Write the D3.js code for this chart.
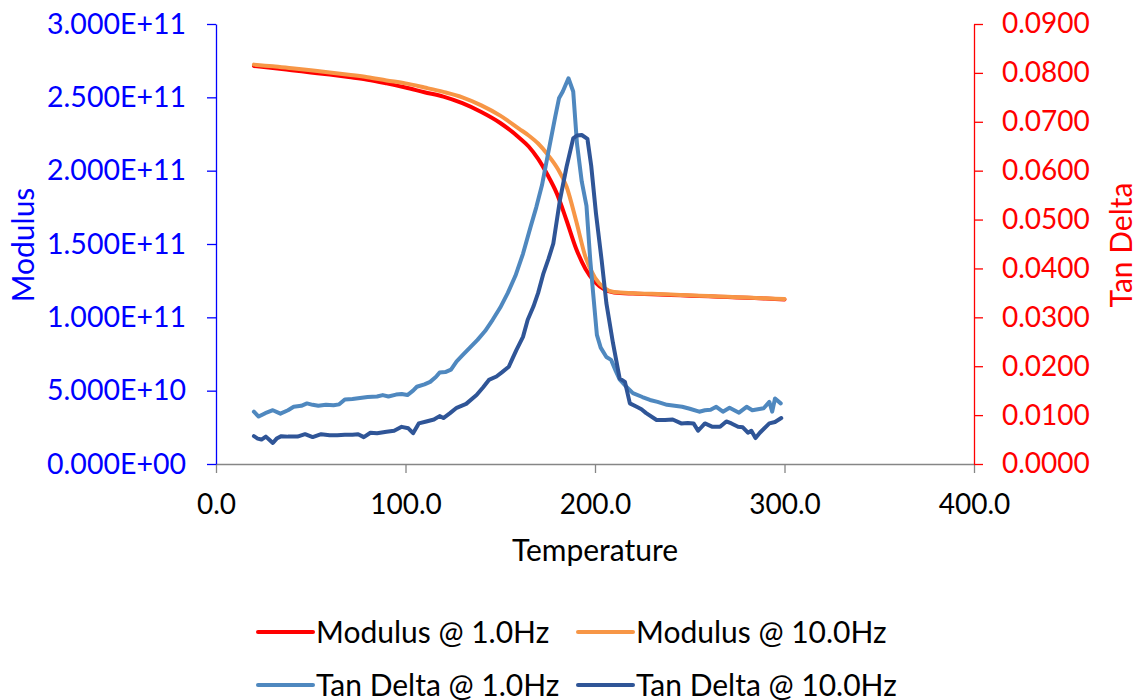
<!DOCTYPE html>
<html>
<head>
<meta charset="utf-8">
<script src="https://cdn.jsdelivr.net/npm/d3@7"></script>
<style>
  body { margin: 0; background: #fff; }
  svg text { font-family: Lato, "Open Sans", sans-serif; }
</style>
</head>
<body>
<div id="chart"></div>
<script>
// Modulus series
var modTemps = [20, 30, 40, 50, 60, 70, 80, 90, 100, 110, 120, 130, 140, 150, 160, 165, 170, 175, 180, 185, 190, 195, 200, 205, 210, 220, 230, 240, 250, 260, 270, 280, 290, 300];
var modulus1Hz = [2.714e11, 2.700e11, 2.685e11, 2.670e11, 2.655e11, 2.638e11, 2.620e11, 2.595e11, 2.567e11, 2.535e11, 2.505e11, 2.460e11, 2.400e11, 2.325e11, 2.225e11, 2.165e11, 2.080e11, 1.970e11, 1.840e11, 1.660e11, 1.470e11, 1.330e11, 1.240e11, 1.190e11, 1.170e11, 1.162e11, 1.158e11, 1.153e11, 1.148e11, 1.143e11, 1.138e11, 1.133e11, 1.128e11, 1.122e11];
var modulus10Hz = [2.723e11, 2.712e11, 2.698e11, 2.684e11, 2.670e11, 2.654e11, 2.637e11, 2.615e11, 2.595e11, 2.567e11, 2.537e11, 2.500e11, 2.445e11, 2.375e11, 2.285e11, 2.240e11, 2.185e11, 2.110e11, 2.020e11, 1.890e11, 1.660e11, 1.410e11, 1.270e11, 1.200e11, 1.172e11, 1.164e11, 1.160e11, 1.155e11, 1.150e11, 1.145e11, 1.140e11, 1.135e11, 1.130e11, 1.125e11];

// Tan Delta series
var tan1Temps = [20, 22.5, 26, 30, 34, 38, 41, 45, 48, 51, 54, 58, 62, 65, 68, 72, 76, 80, 85, 88, 91, 95, 98, 101, 104, 106, 110, 113, 116, 118, 121, 124, 127, 130, 134, 138, 142, 146, 150, 154, 158, 162, 166, 169, 172, 176, 179, 181, 183, 186, 188.5, 190.5, 193, 195.5, 197.5, 199, 201, 203, 206, 208.5, 211, 213, 216, 220, 225, 229, 233, 238, 242, 246, 250, 255, 258, 261, 264, 267.5, 271, 273, 276, 280, 283, 286, 289, 292, 293.5, 295, 298];
var tanDelta1Hz = [0.0107, 0.0097, 0.0104, 0.0110, 0.0103, 0.0110, 0.0117, 0.0119, 0.0124, 0.0121, 0.0119, 0.0121, 0.0120, 0.0122, 0.0132, 0.0133, 0.0135, 0.0137, 0.0138, 0.0141, 0.0138, 0.0142, 0.0143, 0.0141, 0.0150, 0.0158, 0.0163, 0.0168, 0.0178, 0.0187, 0.0188, 0.0193, 0.0210, 0.0222, 0.0238, 0.0254, 0.0272, 0.0295, 0.0320, 0.0350, 0.0385, 0.0430, 0.0485, 0.0525, 0.0570, 0.0650, 0.0710, 0.0748, 0.0762, 0.0789, 0.0762, 0.0655, 0.0578, 0.0528, 0.0417, 0.0350, 0.0264, 0.0238, 0.0219, 0.0213, 0.0190, 0.0173, 0.0160, 0.0145, 0.0137, 0.0131, 0.0127, 0.0121, 0.0119, 0.0117, 0.0113, 0.0107, 0.0110, 0.0111, 0.0117, 0.0107, 0.0115, 0.0111, 0.0105, 0.0117, 0.0110, 0.0112, 0.0114, 0.0127, 0.0107, 0.0134, 0.0124];

var tan10Temps = [20, 22, 24, 26.3, 28, 30, 32, 34.5, 38, 43, 47, 51, 55.5, 60, 64, 68, 72, 75, 78, 81.5, 85, 90, 94, 98, 101.5, 104, 107, 111, 115, 118, 120, 123.5, 127, 132, 137.5, 141, 144, 148, 151, 154.5, 158.5, 162, 164.5, 167.5, 170, 172.8, 175.5, 178, 181.5, 185, 188.5, 190.5, 193, 196, 198, 200.5, 203.5, 206, 209.5, 213, 215.8, 218.4, 222, 224.5, 227, 232.5, 237, 241, 245.5, 249, 252, 254.4, 258, 262, 266, 269.3, 272, 275.5, 278, 280.7, 282.5, 284.7, 287, 292, 295, 298.3];
var tanDelta10Hz = [0.0057, 0.0052, 0.0050, 0.0056, 0.0050, 0.0043, 0.0052, 0.0057, 0.0056, 0.0056, 0.0061, 0.0055, 0.0061, 0.0059, 0.0059, 0.0060, 0.0060, 0.0061, 0.0055, 0.0064, 0.0063, 0.0066, 0.0068, 0.0076, 0.0073, 0.0063, 0.0083, 0.0087, 0.0091, 0.0098, 0.0094, 0.0104, 0.0115, 0.0123, 0.0141, 0.0157, 0.0172, 0.0179, 0.0188, 0.0199, 0.0233, 0.0260, 0.0295, 0.0322, 0.0350, 0.0390, 0.0420, 0.0451, 0.0540, 0.0608, 0.0666, 0.0672, 0.0673, 0.0665, 0.0610, 0.0513, 0.0417, 0.0329, 0.0247, 0.0175, 0.0168, 0.0124, 0.0117, 0.0112, 0.0104, 0.0090, 0.0090, 0.0091, 0.0083, 0.0084, 0.0083, 0.0068, 0.0083, 0.0076, 0.0076, 0.0087, 0.0083, 0.0076, 0.0075, 0.0064, 0.0068, 0.0053, 0.0064, 0.0083, 0.0086, 0.0094];

// axis ticks
var xTicks = [0, 100, 200, 300, 400];
var modTicks = [0, 5e10, 1e11, 1.5e11, 2e11, 2.5e11, 3e11];
var tanTicks = [0, 0.01, 0.02, 0.03, 0.04, 0.05, 0.06, 0.07, 0.08, 0.09];

var seriesNames = ['Modulus @ 1.0Hz', 'Modulus @ 10.0Hz', 'Tan Delta @ 1.0Hz', 'Tan Delta @ 10.0Hz'];
var seriesColors = ['#ff0000', '#f79646', '#4f88bf', '#2f5597'];

var width = 1141, height = 700;

var svg = d3.select('#chart')
  .append('svg')
  .attr('width', width)
  .attr('height', height);

var x = d3.scaleLinear().domain([0, 400]).range([216, 974]);
var yMod = d3.scaleLinear().domain([0, 3e11]).range([464, 24]);
var yTan = d3.scaleLinear().domain([0, 0.09]).range([464, 24]);

function expFormat(v) {
  var parts = v.toExponential(3).split('e');
  var e = +parts[1];
  return parts[0] + 'E' + (e < 0 ? '-' : '+') + String(Math.abs(e)).padStart(2, '0');
}

// x axis
var xAxis = svg.append('g')
  .attr('transform', 'translate(0,464)')
  .call(d3.axisBottom(x).tickValues(xTicks).tickFormat(d3.format('.1f'))
    .tickSize(9).tickSizeOuter(0).tickPadding(21));
xAxis.select('.domain').attr('stroke', '#868686').attr('stroke-width', 1.3);
xAxis.selectAll('.tick line').attr('stroke', '#868686').attr('stroke-width', 1.3);
xAxis.selectAll('text').attr('fill', '#000').style('font-size', '28px');

// left axis
var lAxis = svg.append('g')
  .attr('transform', 'translate(216,0)')
  .call(d3.axisLeft(yMod).tickValues(modTicks).tickFormat(expFormat)
    .tickSize(9).tickSizeOuter(0).tickPadding(21));
lAxis.select('.domain').attr('stroke', '#0000ff').attr('stroke-width', 1.3);
lAxis.selectAll('.tick line').attr('stroke', '#0000ff').attr('stroke-width', 1.3);
lAxis.selectAll('text').attr('fill', '#0000ff').style('font-size', '28.5px');

// right axis
var rAxis = svg.append('g')
  .attr('transform', 'translate(974,0)')
  .call(d3.axisRight(yTan).tickValues(tanTicks).tickFormat(d3.format('.4f'))
    .tickSize(9).tickSizeOuter(0).tickPadding(19));
rAxis.select('.domain').attr('stroke', '#ff0000').attr('stroke-width', 1.3);
rAxis.selectAll('.tick line').attr('stroke', '#ff0000').attr('stroke-width', 1.3);
rAxis.selectAll('text').attr('fill', '#ff0000').style('font-size', '28px');

// axis titles
svg.append('text')
  .attr('x', 595).attr('y', 561)
  .attr('text-anchor', 'middle')
  .style('font-size', '30px')
  .text('Temperature');

svg.append('text')
  .attr('transform', 'translate(34,245) rotate(-90)')
  .attr('text-anchor', 'middle')
  .attr('fill', '#0000ff')
  .style('font-size', '30px')
  .text('Modulus');

svg.append('text')
  .attr('transform', 'translate(1132,245) rotate(-90)')
  .attr('text-anchor', 'middle')
  .attr('fill', '#ff0000')
  .style('font-size', '30px')
  .text('Tan Delta');

// lines
var modLine = function(vals) {
  return d3.line()
    .x(function(d, i) { return x(modTemps[i]); })
    .y(function(d) { return yMod(d); })
    .curve(d3.curveMonotoneX)(vals);
};
var tanLine = function(temps, vals) {
  return d3.line()
    .x(function(d, i) { return x(temps[i]); })
    .y(function(d) { return yTan(d); })(vals);
};

var paths = [
  modLine(modulus1Hz),
  modLine(modulus10Hz),
  tanLine(tan1Temps, tanDelta1Hz),
  tanLine(tan10Temps, tanDelta10Hz)
];

svg.append('g')
  .selectAll('path')
  .data(paths)
  .enter()
  .append('path')
  .attr('d', function(d) { return d; })
  .attr('fill', 'none')
  .attr('stroke', function(d, i) { return seriesColors[i]; })
  .attr('stroke-width', 4)
  .attr('stroke-linejoin', 'round')
  .attr('stroke-linecap', 'round');

// legend
var legendPos = [[258, 632], [578, 632], [258, 685], [578, 685]];
var legend = svg.append('g')
  .selectAll('g')
  .data(seriesNames)
  .enter()
  .append('g')
  .attr('transform', function(d, i) { return 'translate(' + legendPos[i][0] + ',' + legendPos[i][1] + ')'; });

legend.append('line')
  .attr('x1', 0).attr('x2', 55)
  .attr('stroke', function(d, i) { return seriesColors[i]; })
  .attr('stroke-width', 4)
  .attr('stroke-linecap', 'round');

legend.append('text')
  .attr('x', 58).attr('dy', '0.35em')
  .style('font-size', '30px')
  .text(function(d) { return d; });
</script>
</body>
</html>
